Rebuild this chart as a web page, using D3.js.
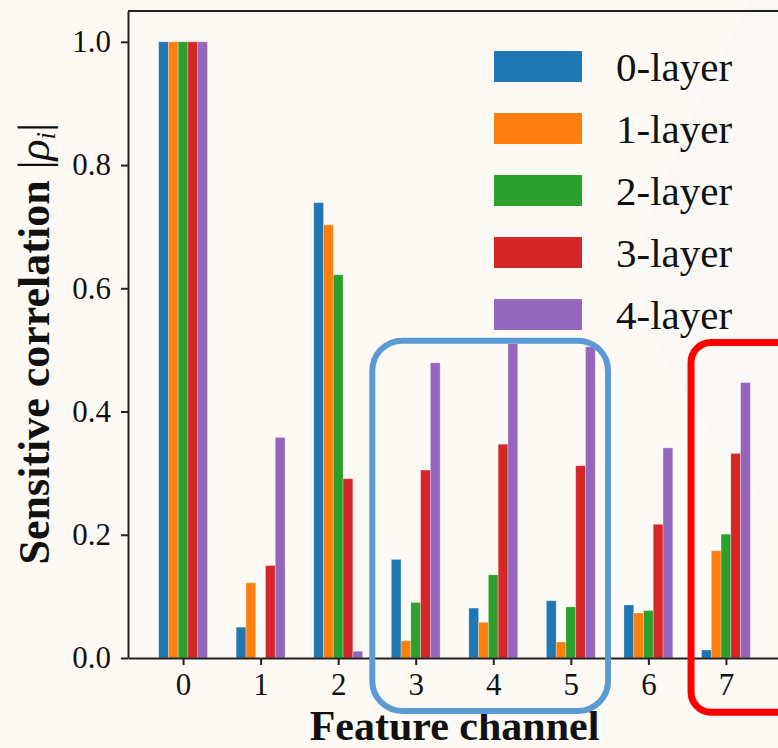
<!DOCTYPE html>
<html>
<head>
<meta charset="utf-8">
<script src="https://cdn.jsdelivr.net/npm/d3@7"></script>
<style>
  body { margin: 0; background: #fdfaf5; }
  svg { display: block; }
</style>
</head>
<body>
<div id="chart"></div>
<script>
"use strict";

// data
var channels = [0, 1, 2, 3, 4, 5, 6, 7];
var layerNames = ["0-layer", "1-layer", "2-layer", "3-layer", "4-layer"];
var layer0 = [1.0, 0.050, 0.739, 0.160, 0.081, 0.093, 0.086, 0.013];
var layer1 = [1.0, 0.122, 0.703, 0.028, 0.058, 0.026, 0.073, 0.174];
var layer2 = [1.0, 0.000, 0.622, 0.090, 0.135, 0.083, 0.077, 0.201];
var layer3 = [1.0, 0.150, 0.291, 0.305, 0.347, 0.312, 0.217, 0.332];
var layer4 = [1.0, 0.358, 0.011, 0.479, 0.510, 0.505, 0.341, 0.447];
var layerValues = [layer0, layer1, layer2, layer3, layer4];
var colors = ["#1f77b4", "#ff7f0e", "#2ca02c", "#d62728", "#9467bd"];
var yTicks = [0.0, 0.2, 0.4, 0.6, 0.8, 1.0];

// highlight boxes, in data units: [x0, x1, yTop, yBottom]
var blueBox = [2.44, 5.48, 0.515, -0.086];
var redBox = [6.55, 7.95, 0.512, -0.088];

var W = 778, H = 748;
var margin = {top: 11, right: -3, bottom: 90, left: 128};
var barW = 0.126;
var serif = "'Liberation Serif', 'Times New Roman', serif";

var svg = d3.select("#chart").append("svg")
    .attr("width", W).attr("height", H);

svg.append("rect").attr("width", W).attr("height", H).attr("fill", "#fdfaf5");
// faint watermark shape on the right
svg.append("path")
    .attr("d", "M748,0 C735,40 660,170 640,250 C625,320 700,420 778,520 L778,0 Z")
    .attr("fill", "#faf8f4");

var x = d3.scaleLinear().domain([-0.71, 7.71]).range([margin.left, W - margin.right]);
var y = d3.scaleLinear().domain([0, 1.05]).range([H - margin.bottom, margin.top]);

var g = svg.append("g");

// bars
layerValues.forEach(function (vals, j) {
    g.append("g").selectAll("rect")
        .data(channels)
        .enter().append("rect")
        .attr("x", function (c) { return x(c + (j - 2.5) * barW); })
        .attr("width", x(barW) - x(0))
        .attr("y", function (c, i) { return y(vals[i]); })
        .attr("height", function (c, i) { return y(0) - y(vals[i]); })
        .attr("fill", colors[j])
        .attr("stroke", "#ffffff")
        .attr("stroke-opacity", 0.35)
        .attr("stroke-width", 0.8);
});

// axes
var xAxis = d3.axisBottom(x).tickValues(channels).tickFormat(d3.format("d"))
    .tickSizeInner(7).tickSizeOuter(0).tickPadding(8);
var yAxis = d3.axisLeft(y).tickValues(yTicks).tickFormat(d3.format(".1f"))
    .tickSizeInner(7).tickSizeOuter(0).tickPadding(10);

var gx = svg.append("g").attr("transform", "translate(0," + y(0) + ")").call(xAxis);
var gy = svg.append("g").attr("transform", "translate(" + x(-0.71) + ",0)").call(yAxis);

[gx, gy].forEach(function (a) {
    a.selectAll("path.domain").attr("stroke", "#222").attr("stroke-width", 2);
    a.selectAll(".tick line").attr("stroke", "#222").attr("stroke-width", 2);
    a.selectAll(".tick text")
        .attr("fill", "#111")
        .style("font-family", serif)
        .style("font-size", "31px");
});

// top spine
svg.append("line")
    .attr("x1", x(-0.71)).attr("x2", W)
    .attr("y1", y(1.05)).attr("y2", y(1.05))
    .attr("stroke", "#222").attr("stroke-width", 2);

// axis titles
svg.append("text")
    .attr("x", x(3.5)).attr("y", 740)
    .attr("text-anchor", "middle")
    .style("font-family", serif)
    .style("font-weight", "bold").style("font-size", "42px")
    .attr("fill", "#111")
    .text("Feature channel");

var yl = svg.append("text")
    .attr("transform", "translate(49," + y(0.51) + ") rotate(-90)")
    .attr("text-anchor", "middle")
    .style("font-family", serif)
    .style("font-size", "44px")
    .attr("fill", "#111");
yl.append("tspan").style("font-weight", "bold").text("Sensitive correlation ");
yl.append("tspan").text("|");
yl.append("tspan").style("font-style", "italic").text("ρ");
yl.append("tspan").style("font-style", "italic").style("font-size", "27px").attr("dy", 6).text("i");
yl.append("tspan").attr("dy", -6).text("|");

// legend
var leg = svg.append("g").attr("transform", "translate(494,51)");
layerNames.forEach(function (name, j) {
    var row = leg.append("g").attr("transform", "translate(0," + (j * 62) + ")");
    row.append("rect").attr("width", 88).attr("height", 31).attr("fill", colors[j]);
    row.append("text")
        .attr("x", 122).attr("y", 15.5).attr("dy", "0.35em")
        .style("font-family", serif)
        .style("font-size", "41px")
        .attr("fill", "#111")
        .text(name);
});

// highlight boxes
function box(b, color, r, sw) {
    svg.append("rect")
        .attr("x", x(b[0])).attr("y", y(b[2]))
        .attr("width", x(b[1]) - x(b[0]))
        .attr("height", y(b[3]) - y(b[2]))
        .attr("rx", r).attr("ry", r)
        .attr("fill", "none")
        .attr("stroke", color)
        .attr("stroke-width", sw);
}
box(blueBox, "#5b9bd5", 30, 6);
box(redBox, "#ff0000", 20, 7);
</script>
</body>
</html>
